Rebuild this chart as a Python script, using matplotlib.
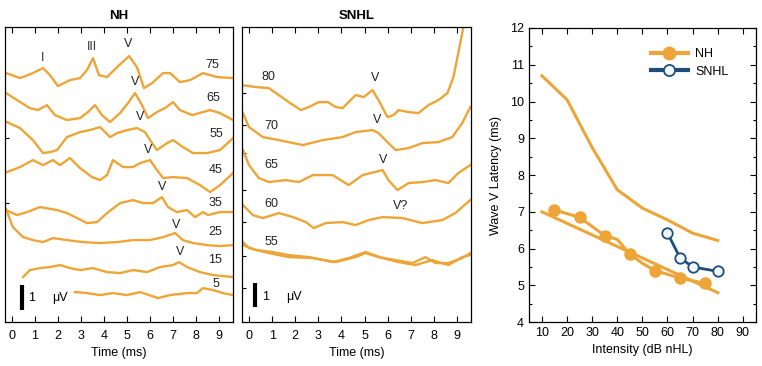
import matplotlib
matplotlib.use("Agg")
import matplotlib.pyplot as plt

plt.rcParams['font.family'] = ['Liberation Sans', 'DejaVu Sans']
plt.rcParams['font.size'] = 9

ORANGE = '#EDA538'
BLUE = '#1D4E7A'

# ---- NH waveforms (time in ms, amplitude in uV, stacked) ----
nh75_t = [-0.26, 0.35, 0.91, 1.35, 1.65, 2.0, 2.52, 2.96, 3.26, 3.52, 3.78, 4.13, 4.57, 5.09, 5.43, 5.74, 6.09, 6.57, 6.87, 7.30, 7.74, 8.30, 8.91, 9.61]
nh75_v = [9.96, 9.76, 9.96, 10.16, 9.88, 9.44, 9.68, 9.76, 10.08, 10.56, 9.88, 9.80, 10.20, 10.64, 10.20, 9.36, 9.56, 9.96, 9.96, 9.60, 9.68, 9.96, 9.80, 9.76]
nh65_t = [-0.26, 0.22, 0.78, 1.13, 1.52, 1.87, 2.39, 2.96, 3.30, 3.61, 3.91, 4.26, 4.70, 5.04, 5.35, 5.65, 5.91, 6.30, 6.65, 7.0, 7.30, 7.83, 8.61, 9.04, 9.61]
nh65_v = [9.16, 8.88, 8.56, 8.48, 8.68, 8.28, 8.08, 8.16, 8.40, 8.68, 8.28, 8.0, 8.36, 8.76, 9.16, 8.68, 8.16, 8.40, 8.56, 8.80, 8.48, 8.28, 8.48, 8.36, 8.08]
nh55_t = [-0.22, 0.35, 0.91, 1.35, 1.65, 1.96, 2.39, 2.96, 3.39, 3.83, 4.26, 4.57, 5.0, 5.43, 5.78, 6.09, 6.30, 6.74, 7.0, 7.43, 7.87, 8.48, 9.04, 9.61]
nh55_v = [8.0, 7.76, 7.28, 6.76, 6.80, 6.88, 7.40, 7.60, 7.68, 7.80, 7.40, 7.56, 7.68, 7.76, 7.60, 7.16, 6.88, 7.16, 7.28, 7.0, 6.76, 6.76, 6.88, 7.36]
nh45_t = [-0.22, 0.35, 0.91, 1.35, 1.78, 2.09, 2.52, 2.96, 3.48, 3.83, 4.13, 4.39, 4.83, 5.26, 5.57, 6.0, 6.30, 6.57, 7.0, 7.61, 8.17, 8.61, 9.04, 9.61]
nh45_v = [6.0, 6.2, 6.48, 6.28, 6.48, 6.28, 6.56, 6.16, 5.80, 5.68, 5.88, 6.48, 6.20, 6.20, 6.36, 6.48, 6.08, 5.76, 5.80, 5.76, 5.48, 5.20, 5.48, 5.96]
nh35_t = [-0.26, 0.22, 0.65, 1.22, 1.96, 2.39, 2.83, 3.26, 3.70, 4.13, 4.70, 5.26, 5.70, 6.13, 6.52, 6.78, 7.17, 7.61, 7.96, 8.30, 8.52, 9.04, 9.61]
nh35_v = [4.48, 4.28, 4.40, 4.60, 4.48, 4.36, 4.16, 3.96, 4.0, 4.36, 4.76, 4.88, 4.76, 4.76, 5.0, 4.60, 4.40, 4.48, 4.20, 4.40, 4.28, 4.40, 4.40]
nh25_t = [-0.26, 0.04, 0.48, 0.91, 1.35, 1.78, 2.39, 3.09, 3.83, 4.57, 5.26, 6.0, 6.57, 7.09, 7.43, 7.87, 8.48, 9.04, 9.61]
nh25_v = [4.52, 3.80, 3.40, 3.28, 3.20, 3.36, 3.28, 3.20, 3.16, 3.20, 3.28, 3.28, 3.40, 3.56, 3.28, 3.16, 3.08, 3.04, 3.08]
nh15_t = [0.48, 0.78, 1.22, 1.65, 2.09, 2.52, 2.96, 3.52, 4.13, 4.70, 5.26, 5.87, 6.43, 7.0, 7.26, 7.61, 8.17, 8.74, 9.61]
nh15_v = [1.80, 2.08, 2.16, 2.20, 2.28, 2.16, 2.08, 2.16, 2.0, 1.96, 2.08, 2.0, 2.20, 2.28, 2.40, 2.20, 2.0, 1.88, 1.80]
nh5_t = [2.74, 3.26, 3.83, 4.39, 5.0, 5.57, 6.35, 6.87, 7.61, 8.04, 8.30, 8.74, 9.17, 9.61]
nh5_v = [1.20, 1.16, 1.08, 1.16, 1.08, 1.20, 0.96, 1.08, 1.16, 1.16, 1.36, 1.28, 1.16, 1.08]

# ---- SNHL waveforms ----
sn80_t = [-0.30, 0.30, 0.86, 1.29, 1.72, 2.24, 2.59, 3.02, 3.41, 3.75, 4.05, 4.31, 4.61, 4.96, 5.34, 5.60, 5.99, 6.25, 6.47, 6.90, 7.33, 7.76, 8.19, 8.58, 8.84, 9.05, 9.27, 9.40]
sn80_v = [9.48, 9.40, 9.36, 9.08, 8.80, 8.48, 8.60, 8.80, 8.80, 8.60, 8.56, 8.80, 9.08, 9.0, 9.28, 8.88, 8.20, 8.28, 8.48, 8.40, 8.36, 8.68, 8.88, 9.16, 9.80, 10.76, 11.8, 12.6]
sn70_t = [-0.26, 0.0, 0.60, 1.29, 2.33, 3.19, 4.05, 4.61, 5.34, 5.60, 6.03, 6.34, 6.90, 7.50, 8.19, 8.79, 9.22, 9.57]
sn70_v = [8.36, 7.80, 7.40, 7.28, 7.08, 7.28, 7.40, 7.60, 7.68, 7.56, 7.16, 6.88, 6.96, 7.16, 7.20, 7.40, 7.96, 8.60]
sn65_t = [-0.26, 0.0, 0.43, 0.86, 1.59, 2.16, 2.76, 3.62, 4.31, 4.91, 5.78, 6.03, 6.42, 6.90, 7.50, 8.06, 8.62, 9.05, 9.57]
sn65_v = [6.88, 6.28, 5.76, 5.60, 5.68, 5.60, 5.88, 5.88, 5.48, 5.88, 6.08, 5.68, 5.28, 5.56, 5.60, 5.68, 5.56, 5.96, 6.28]
sn60_t = [-0.26, 0.17, 0.60, 1.29, 1.90, 2.46, 2.80, 3.32, 4.05, 4.61, 5.17, 5.78, 6.64, 7.50, 8.36, 8.92, 9.57]
sn60_v = [4.68, 4.28, 4.16, 4.36, 4.20, 4.0, 3.76, 3.96, 4.0, 3.88, 4.08, 4.20, 4.16, 3.96, 4.08, 4.36, 4.88]
sn55a_t = [-0.26, 0.0, 0.86, 1.72, 2.76, 3.75, 4.61, 5.04, 5.60, 6.34, 7.07, 7.63, 8.06, 8.62, 9.22, 9.57]
sn55a_v = [3.20, 2.96, 2.76, 2.60, 2.56, 2.40, 2.60, 2.76, 2.60, 2.48, 2.36, 2.60, 2.36, 2.36, 2.56, 2.76]
sn55b_t = [-0.26, 0.30, 1.03, 1.72, 2.59, 3.62, 4.31, 5.04, 5.78, 6.47, 7.20, 7.93, 8.62, 9.22, 9.57]
sn55b_v = [3.08, 2.88, 2.80, 2.68, 2.60, 2.40, 2.56, 2.80, 2.56, 2.40, 2.28, 2.48, 2.28, 2.60, 2.68]

# ---- wave V latency vs intensity ----
nh_norm_db = [10, 20, 30, 40, 50, 60, 70, 80]
nh_norm_upper = [10.7, 10.05, 8.75, 7.6, 7.1, 6.78, 6.42, 6.22]
nh_fit_db = [10, 80]
nh_fit_lat = [7.0, 4.8]
nh_line_db = [15, 25, 35, 40, 45, 50, 55, 65, 75]
nh_line_lat = [7.05, 6.85, 6.35, 6.25, 5.85, 5.6, 5.4, 5.2, 5.05]
nh_db = [15, 25, 35, 45, 55, 65, 75]
nh_lat = [7.05, 6.85, 6.35, 5.85, 5.4, 5.2, 5.05]
snhl_db = [60, 65, 70, 80]
snhl_lat = [6.42, 5.75, 5.5, 5.38]

fig = plt.figure(figsize=(7.62, 3.66), dpi=100)
ax1 = fig.add_axes([0.0066, 0.120, 0.299, 0.806])
ax2 = fig.add_axes([0.3176, 0.120, 0.3005, 0.806])
ax3 = fig.add_axes([0.694, 0.120, 0.298, 0.8035])


def wave_axes(ax, title, yticks):
    ax.set_xlim(-0.3, 9.6)
    ax.set_ylim(0, 11.8)
    ax.set_xticks(range(10))
    ax.set_yticks(yticks)
    ax.set_yticklabels([])
    ax.tick_params(direction='in', top=True, length=4, width=0.8, labelsize=9, pad=6)
    ax.tick_params(axis='y', length=3)
    ax.set_xlabel('Time (ms)', fontsize=9, labelpad=3)
    ax.set_title(title, fontsize=9.5, fontweight='bold', pad=6)
    for s in ax.spines.values():
        s.set_linewidth(0.9)


# NH panel
for t, v in [(nh75_t, nh75_v), (nh65_t, nh65_v), (nh55_t, nh55_v), (nh45_t, nh45_v),
             (nh35_t, nh35_v), (nh25_t, nh25_v), (nh15_t, nh15_v), (nh5_t, nh5_v)]:
    ax1.plot(t, v, color=ORANGE, lw=1.7, solid_joinstyle='round')
wave_axes(ax1, 'NH', [4.76, 7.36])
ax1.text(1.35, 10.56, 'I', ha='center', va='center', color='#333333')
ax1.text(3.48, 11.0, 'III', ha='center', va='center', color='#333333')
for tx, vy in [(5.04, 11.12), (5.35, 9.6), (5.57, 8.2), (5.91, 6.88), (6.52, 5.4), (7.13, 3.88), (7.3, 2.8)]:
    ax1.text(tx, vy, 'V', ha='center', va='center', color='#222222')
for lab, tx, vy in [('75', 8.7, 10.28), ('65', 8.74, 8.96), ('55', 8.87, 7.52), ('45', 8.87, 6.08),
                    ('35', 8.83, 4.76), ('25', 8.83, 3.6), ('15', 8.83, 2.48), ('5', 8.87, 1.52)]:
    ax1.text(tx, vy, lab, ha='center', va='center', color='#222222')
ax1.plot([0.43, 0.43], [0.48, 1.48], color='black', lw=3, solid_capstyle='butt')
ax1.text(0.7, 0.96, '1', va='center')
ax1.text(1.75, 0.96, 'μV', va='center')

# SNHL panel
for t, v in [(sn80_t, sn80_v), (sn70_t, sn70_v), (sn65_t, sn65_v), (sn60_t, sn60_v),
             (sn55a_t, sn55a_v), (sn55b_t, sn55b_v)]:
    ax2.plot(t, v, color=ORANGE, lw=1.7, solid_joinstyle='round')
wave_axes(ax2, 'SNHL', [1.36, 2.64, 4.0, 5.28, 6.76, 7.88, 9.16])
for lab, tx, vy in [('80', 0.86, 9.8), ('70', 0.95, 7.84), ('65', 0.95, 6.28), ('60', 0.95, 4.72), ('55', 0.95, 3.2)]:
    ax2.text(tx, vy, lab, ha='center', va='center', color='#222222')
for lab, tx, vy in [('V', 5.47, 9.76), ('V', 5.56, 8.08), ('V', 5.82, 6.48), ('V?', 6.55, 4.64)]:
    ax2.text(tx, vy, lab, ha='center', va='center', color='#222222')
ax2.plot([0.26, 0.26], [0.6, 1.56], color='black', lw=3, solid_capstyle='butt')
ax2.text(0.55, 1.0, '1', va='center')
ax2.text(1.6, 1.0, 'μV', va='center')

# latency panel
ax3.plot(nh_norm_db, nh_norm_upper, color=ORANGE, lw=2.2)
ax3.plot(nh_fit_db, nh_fit_lat, color=ORANGE, lw=2.2)
ax3.plot(nh_line_db, nh_line_lat, color=ORANGE, lw=2.2)
ax3.plot(nh_db, nh_lat, 'o', color=ORANGE, ms=8)
ax3.plot(snhl_db, snhl_lat, '-o', color=BLUE, lw=2.0, ms=7.5, mfc='#F2F8FC', mec=BLUE, mew=1.3)
ax3.plot([], [], '-o', color=ORANGE, lw=3, ms=9, label='NH')
ax3.plot([], [], '-o', color=BLUE, lw=3, ms=8, mfc='#F2F8FC', mew=1.3, label='SNHL')
h, l = ax3.get_legend_handles_labels()
ax3.legend(h[-2:], l[-2:], loc='upper left', bbox_to_anchor=(0.49, 0.97), frameon=False,
           handlelength=2.9, handletextpad=0.6, labelspacing=0.45, fontsize=9)
ax3.set_xlim(4.8, 95.2)
ax3.set_ylim(4, 12)
ax3.set_xticks(range(10, 91, 10))
ax3.set_yticks(range(4, 13))
ax3.set_yticks([y + 0.5 for y in range(4, 12)], minor=True)
ax3.tick_params(which='both', direction='in', top=True, right=True, labelsize=9)
ax3.tick_params(which='major', length=4, width=0.8)
ax3.tick_params(which='minor', length=2.5, width=0.8)
ax3.set_xlabel('Intensity (dB nHL)', fontsize=9, labelpad=4)
ax3.set_ylabel('Wave V Latency (ms)', fontsize=9, labelpad=6)
for s in ax3.spines.values():
    s.set_linewidth(0.9)

fig.savefig('out.png', dpi=100)
